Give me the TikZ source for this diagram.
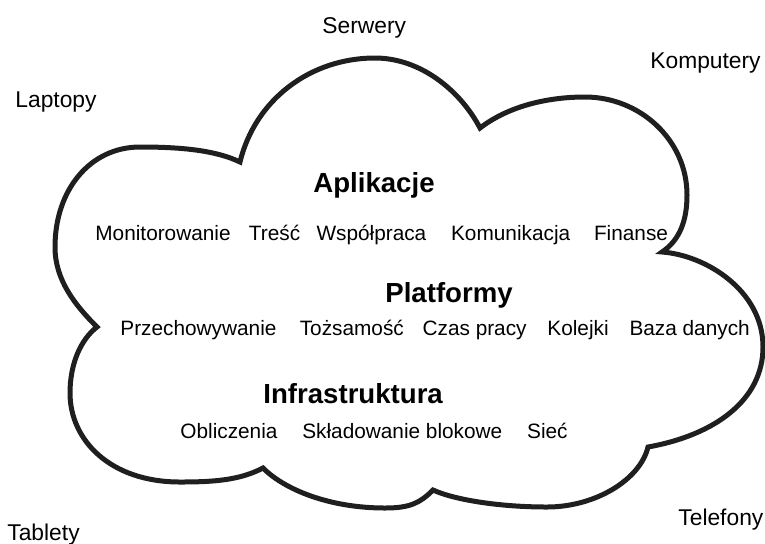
\documentclass[tikz,border=0pt]{standalone}
\usepackage{fontspec}
\setmainfont{Liberation Sans}
\usetikzlibrary{positioning}

\begin{document}
\begin{tikzpicture}[x=0.5pt, y=-0.5pt,
    lbl/.style={inner sep=0pt, font=\fontsize{11.4}{13}\selectfont},
    head/.style={inner sep=0pt, font=\fontsize{13.8}{16}\selectfont\bfseries},
    item/.style={inner sep=0pt, font=\fontsize{10.4}{12}\selectfont},
    cloudline/.style={draw=black!88, line width=2.5pt}]
  % \draw[step=50, gray!20!white, very thin] (0,0) grid (765,543);
  \useasboundingbox (0,0) rectangle (765,543);

  % the cloud
  \draw[cloudline] (97,327) .. controls (75,305) and (55,280) .. (55,247)
    .. controls (55,190) and (90,147) .. (140,147)
    .. controls (180,147) and (215,150) .. (240,162)
    .. controls (255,100) and (310,58) .. (375,58)
    .. controls (420,58) and (460,90) .. (480,128)
    .. controls (510,105) and (550,97) .. (585,97)
    .. controls (640,97) and (687,140) .. (687,195)
    .. controls (687,220) and (680,240) .. (662,252)
    .. controls (705,255) and (763,290) .. (763,347)
    .. controls (763,400) and (715,435) .. (648,447)
    .. controls (640,480) and (595,507) .. (547,507)
    .. controls (500,507) and (455,500) .. (433,490)
    .. controls (420,503) and (410,508) .. (385,508)
    .. controls (330,508) and (285,490) .. (263,468)
    .. controls (240,480) and (215,482) .. (180,482)
    .. controls (110,482) and (70,440) .. (70,393)
    .. controls (70,365) and (80,340) .. (97,327) -- cycle;

  % devices round the cloud
  \node[lbl, anchor=base west] at (322,33) (d_1) {Serwery};
  \node[lbl, anchor=base west] at (650,68) (d_2) {Komputery};
  \node[lbl, anchor=base west] at (15,107) (d_3) {Laptopy};
  \node[lbl, anchor=base west] at (7,540) (d_4) {Tablety};
  \node[lbl, anchor=base west] at (678,525) (d_5) {Telefony};

  % layers
  \node[head, anchor=base west] at (313,192) (h_1) {Aplikacje};
  \node[item, anchor=base west] at (95,240) (a_1) {Monitorowanie};
  \node[item] (a_2) [base right=8.75pt of a_1] {Treść};
  \node[item] (a_3) [base right=7.75pt of a_2] {Współpraca};
  \node[item] (a_4) [base right=12pt of a_3] {Komunikacja};
  \node[item] (a_5) [base right=11.5pt of a_4] {Finanse};

  \node[head, anchor=base west] at (385,302) (h_2) {Platformy};
  \node[item, anchor=base west] at (120,335) (p_1) {Przechowywanie};
  \node[item] (p_2) [base right=11.25pt of p_1] {Tożsamość};
  \node[item] (p_3) [base right=9pt of p_2] {Czas pracy};
  \node[item] (p_4) [base right=10pt of p_3] {Kolejki};
  \node[item] (p_5) [base right=10pt of p_4] {Baza danych};

  \node[head, anchor=base west] at (263,403) (h_3) {Infrastruktura};
  \node[item, anchor=base west] at (180,438) (i_1) {Obliczenia};
  \node[item] (i_2) [base right=12pt of i_1] {Składowanie blokowe};
  \node[item] (i_3) [base right=12pt of i_2] {Sieć};

\end{tikzpicture}
\end{document}
